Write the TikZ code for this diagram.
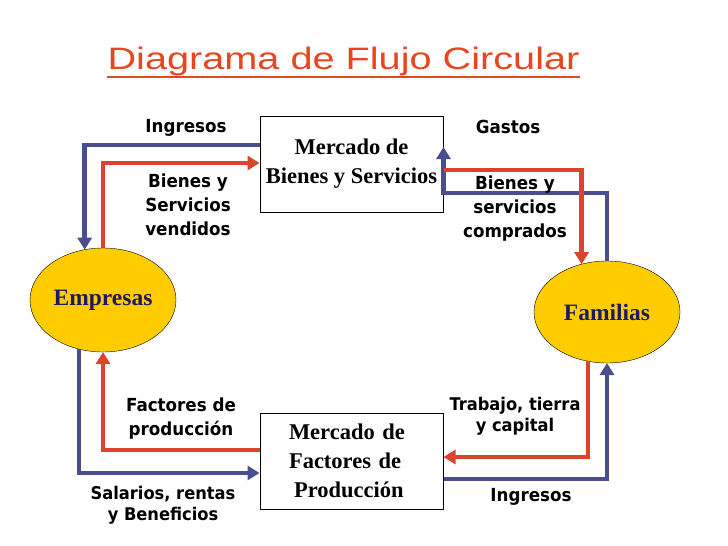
\documentclass[tikz,border=0pt]{standalone}
\usepackage{fontspec}
\setmainfont{Liberation Serif}
\newfontfamily\titlefont[FakeStretch=1.28]{Liberation Sans}
\newfontfamily\labelfont[FakeStretch=0.93]{DejaVu Sans}
\usetikzlibrary{arrows.meta,shapes.geometric}
\definecolor{flowred}{RGB}{217,68,42}
\definecolor{flowblue}{RGB}{74,78,142}
\definecolor{titlered}{RGB}{232,70,30}
\definecolor{gold}{RGB}{255,204,0}
\definecolor{navy}{RGB}{31,26,94}
\tikzset{
	market/.style={draw, line width=1pt, minimum width=183pt, minimum height=96pt, inner sep=0pt,
		font=\bfseries\fontsize{22.5}{29}\selectfont, align=center},
	agent/.style={ellipse, draw, thin, fill=gold, minimum width=146pt, minimum height=104pt,
		inner sep=0pt, outer sep=0pt, text=navy, font=\bfseries\fontsize{23.5}{28}\selectfont},
	flowlabel/.style={font=\labelfont\bfseries\fontsize{18}{24}\selectfont, align=center, inner sep=0pt},
	redflow/.style={draw=flowred, line width=4.5pt, -{Triangle[length=12pt,width=14pt]}},
	blueflow/.style={draw=flowblue, line width=4.5pt, -{Triangle[length=12pt,width=14pt]}}
}
\begin{document}
\begin{tikzpicture}[x=1pt,y=-1pt]
	\useasboundingbox (0,0) rectangle (728,546);
	\node[font=\titlefont\fontsize{31}{36}\selectfont, text=titlered, inner sep=0pt] (title) at (343.5,61) {Diagrama de Flujo Circular};
	\draw[titlered, line width=2pt] ([yshift=-8pt]title.base west) -- ([yshift=-8pt]title.base east);
	% mercados
	\node[market] (bym) at (351.5,164) {Mercado de\\Bienes y Servicios};
	\node[market, text width=125pt, align=left] (fpm) at (351.5,461) {Mercado de\\Factores de\\\hspace*{5pt}Producción};
	% agentes
	\node[agent] (emp) at (103,300) {Empresas};
	\node[agent, minimum height=102pt] (fam) at (607,312) {Familias};
	% flujos de arriba
	\draw[blueflow] ([yshift=19pt]bym.west) -| (emp.110);
	\draw[redflow] (emp.north) |- ([yshift=1pt]bym.west);
	\draw[blueflow] (fam.north) |- ([yshift=-29pt]bym.east) -- ([yshift=17pt]bym.east);
	\draw[redflow] ([yshift=-6pt]bym.east) -| (fam.118);
	% flujos de abajo
	\draw[blueflow] (emp.244) |- ([yshift=-12pt]fpm.west);
	\draw[redflow] ([yshift=11pt]fpm.west) -| (emp.south);
	\draw[redflow] (fam.249) |- ([yshift=4pt]fpm.east);
	\draw[blueflow] ([yshift=-18pt]fpm.east) -| (fam.south);
	% etiquetas
	\node[flowlabel] (ingA) at (186,128) {Ingresos};
	\node[flowlabel] (bsv) at (188,205) {Bienes y\\Servicios\\vendidos};
	\node[flowlabel] (gastos) at (508,127) {Gastos};
	\node[flowlabel] (bsc) at (515,209) {Bienes y\\servicios\\comprados};
	\node[flowlabel] (fact) at (181,419) {Factores de\\producción};
	\node[flowlabel, font=\labelfont\bfseries\fontsize{17.5}{21}\selectfont] (sal) at (163,505) {Salarios, rentas\\y Beneficios};
	\node[flowlabel, font=\labelfont\bfseries\fontsize{17.5}{21}\selectfont] (trab) at (515,416) {Trabajo, tierra\\y capital};
	\node[flowlabel] (ingB) at (531,497) {Ingresos};
\end{tikzpicture}
\end{document}
